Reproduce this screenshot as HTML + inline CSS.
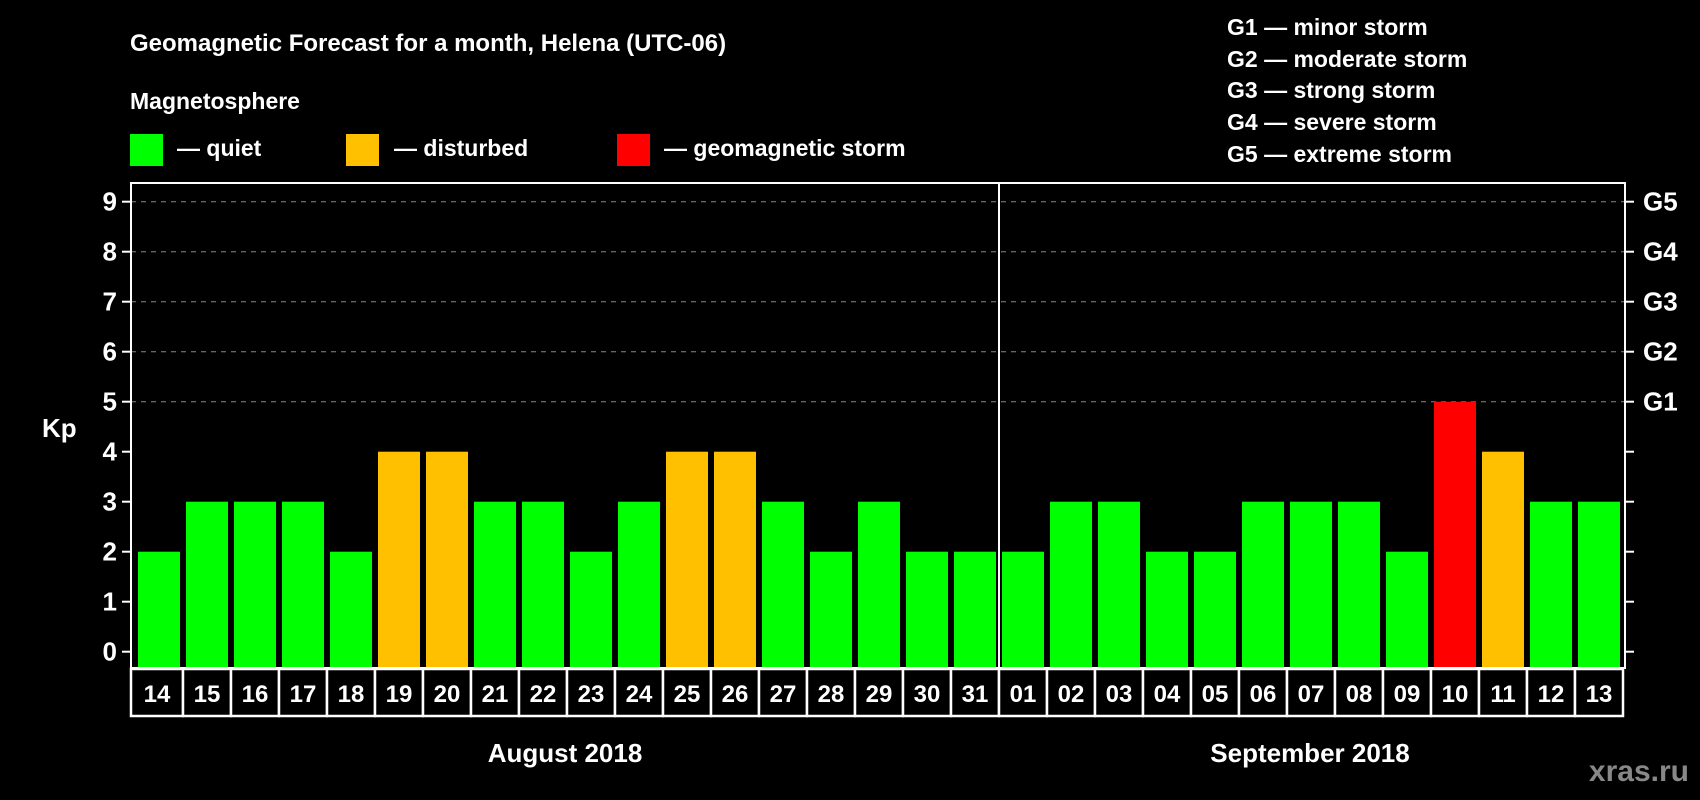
<!DOCTYPE html>
<html><head><meta charset="utf-8"><style>
html,body{margin:0;padding:0;background:#000;}
svg{display:block;font-family:"Liberation Sans",Arial,sans-serif;font-weight:bold;}
</style></head><body>
<svg id="chart" width="1700" height="800" viewBox="0 0 1700 800">
<rect x="0" y="0" width="1700" height="800" fill="#000"/>
<text x="130" y="51" fill="#fff" font-size="24">Geomagnetic Forecast for a month, Helena (UTC-06)</text>
<text x="130" y="109" fill="#fff" font-size="23">Magnetosphere</text>
<g><rect x="130" y="134" width="33" height="32" fill="#00ff00"/><text x="177" y="156" fill="#fff" font-size="23">— quiet</text></g>
<g><rect x="346" y="134" width="33" height="32" fill="#ffc000"/><text x="394" y="156" fill="#fff" font-size="23">— disturbed</text></g>
<g><rect x="617" y="134" width="33" height="32" fill="#ff0000"/><text x="664" y="156" fill="#fff" font-size="23">— geomagnetic storm</text></g>
<g fill="#fff" font-size="23">
<text x="1227" y="35">G1 — minor storm</text>
<text x="1227" y="67">G2 — moderate storm</text>
<text x="1227" y="98">G3 — strong storm</text>
<text x="1227" y="130">G4 — severe storm</text>
<text x="1227" y="162">G5 — extreme storm</text>
</g>
<text x="42" y="437" fill="#fff" font-size="26">Kp</text>
<g id="grid"></g><g id="bars"></g><g id="axes"></g><g id="dates"></g>
<text x="565" y="762" fill="#fff" font-size="26" text-anchor="middle">August 2018</text>
<text x="1310" y="762" fill="#fff" font-size="26" text-anchor="middle">September 2018</text>
<text x="1689" y="781" fill="#888" font-size="30" text-anchor="end">xras.ru</text>
</svg>
<script>
const days = ["14","15","16","17","18","19","20","21","22","23","24","25","26","27","28","29","30","31","01","02","03","04","05","06","07","08","09","10","11","12","13"];
const kpValues = [2,3,3,3,2,4,4,3,3,2,3,4,4,3,2,3,2,2,2,3,3,2,2,3,3,3,2,5,4,3,3];
const yTicks = [0,1,2,3,4,5,6,7,8,9];
const gLabels = ["G1","G2","G3","G4","G5"];
const NS="http://www.w3.org/2000/svg";
const L=131,R=1625,T=183,B=668,PITCH=48,BW=42;
function y(v){return 651.7-50*v;}
function xb(i){return 138+PITCH*i;}
function mk(tag,attrs,parent,text){const e=document.createElementNS(NS,tag);for(const k in attrs)e.setAttribute(k,attrs[k]);if(text!==undefined)e.textContent=text;parent.appendChild(e);return e;}
const grid=document.getElementById('grid'),bars=document.getElementById('bars'),axes=document.getElementById('axes'),dates=document.getElementById('dates');
yTicks.forEach(v=>{
  if(v>=5){const g=mk('line',{x1:L,x2:R,y1:y(v),y2:y(v),stroke:'#888','stroke-width':1,'stroke-dasharray':'5,5'},grid);
  
  }
  const t1=mk('line',{x1:L-9,x2:L,y1:y(v),y2:y(v),stroke:'#fff','stroke-width':2},axes);
  
  
  const t2=mk('line',{x1:R,x2:R+9,y1:y(v),y2:y(v),stroke:'#fff','stroke-width':2},axes);
  
  
  const lb=mk('text',{x:L-14,y:y(v)+9,fill:'#fff','font-size':26,'text-anchor':'end'},axes,String(v));
  
  
});
gLabels.forEach((g,k)=>{
  const t=mk('text',{x:R+18,y:y(k+5)+9,fill:'#fff','font-size':26},axes,g);
  
  
});
kpValues.forEach((v,i)=>{
  const c=v>=5?'#ff0000':(v>=4?'#ffc000':'#00ff00');
  const r=mk('rect',{x:xb(i),y:y(v),width:BW,height:B-y(v),fill:c},bars);
  
  
});
const fr=mk('rect',{x:L,y:T,width:R-L,height:B-T,fill:'none',stroke:'#fff','stroke-width':2},axes);


const splitIdx=days.indexOf("01");
const dv=mk('line',{x1:xb(splitIdx)-3,x2:xb(splitIdx)-3,y1:T,y2:B,stroke:'#fff','stroke-width':2},axes);


days.forEach((d,i)=>{
  const x0=i===0?L:xb(i)-3, x1=i===days.length-1?R-2:xb(i+1)-3;
  const c=mk('rect',{x:x0,y:669,width:x1-x0,height:47,fill:'#000',stroke:'#fff','stroke-width':2.5},dates);
  
  
  const t=mk('text',{x:(x0+x1)/2,y:702,fill:'#fff','font-size':24,'text-anchor':'middle'},dates,d);
  
  
});
</script>
</body></html>
